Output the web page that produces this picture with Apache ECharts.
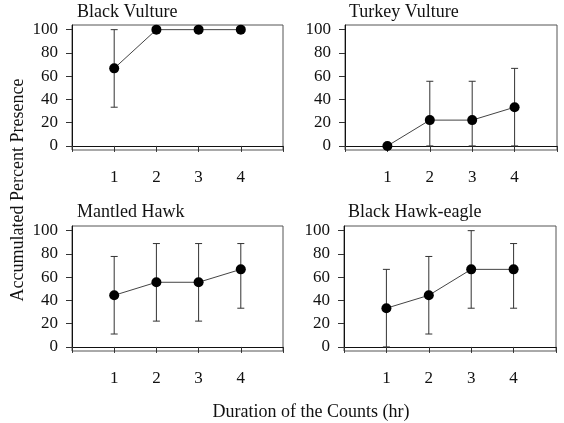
<!DOCTYPE html>
<html>
<head>
<meta charset="utf-8">
<script src="https://cdn.jsdelivr.net/npm/echarts@6/dist/echarts.min.js"></script>
<style>html,body{margin:0;padding:0;background:#fff}#c{width:564px;height:423px}</style>
</head>
<body>
<div id="c"></div>
<script>
const hours = [1, 2, 3, 4];
const xTickValues = [0, 1, 2, 3, 4, 5];
const xLabelValues = [1, 2, 3, 4];
const yTickValues = [0, 20, 40, 60, 80, 100];

const panelTitles = ['Black Vulture', 'Turkey Vulture', 'Mantled Hawk', 'Black Hawk-eagle'];

const blackVultureMean = [66.7, 100, 100, 100];
const blackVultureLow = [33.3, 100, 100, 100];
const blackVultureHigh = [100, 100, 100, 100];

const turkeyVultureMean = [0, 22.2, 22.2, 33.3];
const turkeyVultureLow = [0, 0, 0, 0];
const turkeyVultureHigh = [0, 55.6, 55.6, 66.7];

const mantledHawkMean = [44.4, 55.6, 55.6, 66.7];
const mantledHawkLow = [11.1, 22.2, 22.2, 33.3];
const mantledHawkHigh = [77.8, 88.9, 88.9, 88.9];

const blackHawkEagleMean = [33.3, 44.4, 66.7, 66.7];
const blackHawkEagleLow = [0, 11.1, 33.3, 33.3];
const blackHawkEagleHigh = [66.7, 77.8, 100, 88.9];

const yTitle = 'Accumulated Percent Presence';
const xTitle = 'Duration of the Counts (hr)';

const panels = [
  { mean: blackVultureMean, low: blackVultureLow, high: blackVultureHigh },
  { mean: turkeyVultureMean, low: turkeyVultureLow, high: turkeyVultureHigh },
  { mean: mantledHawkMean, low: mantledHawkLow, high: mantledHawkHigh },
  { mean: blackHawkEagleMean, low: blackHawkEagleLow, high: blackHawkEagleHigh }
];

const FONT = "'Liberation Serif', 'Times New Roman', serif";
const grids = [
  { left: 72, top: 25, width: 211, height: 125 },
  { left: 345, top: 25, width: 212, height: 125 },
  { left: 72, top: 226, width: 211, height: 125 },
  { left: 344, top: 226, width: 212, height: 125 }
];
const titlePos = [
  { left: 77, top: 3 }, { left: 349, top: 3 },
  { left: 77, top: 203 }, { left: 348, top: 203 }
];

const chart = echarts.init(document.getElementById('c'), null, { renderer: 'canvas' });

const option = {
  animation: false,
  backgroundColor: '#fff',
  title: panelTitles.map((t, i) => ({
    text: t, left: titlePos[i].left, top: titlePos[i].top, padding: 0,
    textStyle: { fontFamily: FONT, fontSize: 18, fontWeight: 'normal', color: '#111' }
  })),
  grid: grids.map(g => Object.assign({ show: true, borderColor: '#555', borderWidth: 1, backgroundColor: 'transparent' }, g)),
  xAxis: grids.map((g, i) => ({
    type: 'value', gridIndex: i, min: 0, max: 5,
    axisLine: { show: true, lineStyle: { color: '#111', width: 1 } },
    axisTick: { show: true, inside: false, length: 6, customValues: xTickValues, lineStyle: { color: '#333' } },
    axisLabel: { show: true, customValues: xLabelValues, margin: 19, fontFamily: FONT, fontSize: 17, color: '#111' },
    splitLine: { show: false }
  })),
  yAxis: grids.map((g, i) => ({
    type: 'value', gridIndex: i, min: -3.5, max: 104,
    axisLine: { show: true, lineStyle: { color: '#111', width: 1 } },
    axisTick: { show: true, inside: false, length: 6, customValues: yTickValues, lineStyle: { color: '#333' } },
    axisLabel: { show: true, customValues: yTickValues, margin: 14, fontFamily: FONT, fontSize: 17, color: '#111' },
    splitLine: { show: false }
  })),
  series: [],
  graphic: [
    { type: 'text', x: 18, y: 190, rotation: Math.PI / 2,
      style: { text: yTitle, font: "18px " + FONT, fill: '#111', align: 'center', verticalAlign: 'middle' } },
    { type: 'text', x: 311, y: 412,
      style: { text: xTitle, font: "18px " + FONT, fill: '#111', align: 'center', verticalAlign: 'middle' } }
  ]
};

panels.forEach((p, i) => {
  option.series.push({
    type: 'custom', xAxisIndex: i, yAxisIndex: i, z: 2,
    data: hours.map((h, k) => [h, p.low[k], p.high[k]]),
    renderItem: function (params, api) {
      const x = api.value(0);
      const lo = api.coord([x, api.value(1)]);
      const hi = api.coord([x, api.value(2)]);
      if (Math.abs(hi[1] - lo[1]) < 0.5) return null;
      const w = 3.5;
      const st = { stroke: '#333', lineWidth: 1 };
      return {
        type: 'group', children: [
          { type: 'line', shape: { x1: lo[0], y1: lo[1], x2: hi[0], y2: hi[1] }, style: st },
          { type: 'line', shape: { x1: lo[0] - w, y1: lo[1], x2: lo[0] + w, y2: lo[1] }, style: st },
          { type: 'line', shape: { x1: hi[0] - w, y1: hi[1], x2: hi[0] + w, y2: hi[1] }, style: st }
        ]
      };
    }
  });
  option.series.push({
    type: 'line', xAxisIndex: i, yAxisIndex: i, z: 3,
    data: hours.map((h, k) => [h, p.mean[k]]),
    symbol: 'circle', symbolSize: 10, showSymbol: true,
    lineStyle: { color: '#444', width: 1 },
    itemStyle: { color: '#000', borderWidth: 0 }
  });
});

chart.setOption(option);
</script>
</body>
</html>
